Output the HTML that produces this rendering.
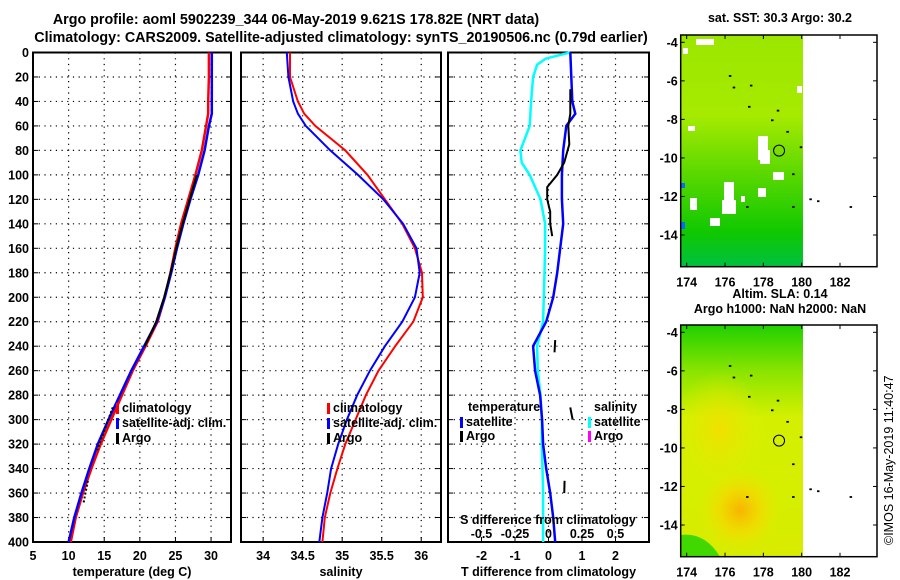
<!DOCTYPE html>
<html><head><meta charset="utf-8"><style>
body{margin:0;background:#fff;width:900px;height:580px;overflow:hidden}
svg{display:block;font-family:"Liberation Sans",sans-serif;font-weight:bold}
</style></head><body>
<svg id="fig" width="900" height="580" xmlns="http://www.w3.org/2000/svg">
<defs>
<linearGradient id="sstg" x1="0" y1="0" x2="0" y2="1">
<stop offset="0" stop-color="#9be600"/><stop offset="0.35" stop-color="#a6ea00"/><stop offset="0.6" stop-color="#5ad800"/><stop offset="0.85" stop-color="#10c800"/><stop offset="1" stop-color="#00c040"/></linearGradient>
<linearGradient id="altg" x1="0" y1="0" x2="0" y2="1">
<stop offset="0" stop-color="#20d000"/><stop offset="0.2" stop-color="#8ae400"/><stop offset="0.4" stop-color="#d4f000"/><stop offset="1" stop-color="#d8ec00"/></linearGradient>
<radialGradient id="blob" cx="0.5" cy="0.5" r="0.5"><stop offset="0" stop-color="#f8b400"/><stop offset="0.5" stop-color="#f4d800" stop-opacity="0.8"/><stop offset="1" stop-color="#e8e800" stop-opacity="0"/></radialGradient>
<radialGradient id="blob2" cx="0.5" cy="0.5" r="0.5"><stop offset="0" stop-color="#f0e000"/><stop offset="1" stop-color="#e0ee00" stop-opacity="0"/></radialGradient>
</defs>
<text x="296" y="24" font-size="14.3" text-anchor="middle">Argo profile: aoml 5902239_344 06-May-2019 9.621S 178.82E (NRT data)</text>
<text x="341" y="42" font-size="14.3" text-anchor="middle">Climatology: CARS2009. Satellite-adjusted climatology: synTS_20190506.nc (0.79d earlier)</text>
<g id="plots"></g>
<g id="maps"></g>
</svg>
<script>
// ---- data ----
const depths = [0,20,40,50,60,80,100,120,140,160,180,200,220,240,260,280,300,320,340,360,380,400];
const tempClim = [29.7,29.7,29.6,29.6,29.3,28.7,27.8,26.8,25.8,25.0,24.3,23.5,22.5,20.8,19.0,17.5,16.0,14.5,13.2,12.0,11.0,10.3];
const tempSat  = [30.1,30.1,30.1,30.1,29.7,29.1,28.2,27.1,26.1,25.2,24.4,23.5,22.4,20.6,18.8,17.2,15.6,14.1,12.9,11.8,10.8,10.0];
const argoTempDepths = [100,120,140,160,180,200,220,240];
const argoTemp = [28.0,27.0,26.0,25.1,24.3,23.4,22.3,20.7];
const salClim = [34.34,34.34,34.44,34.52,34.66,35.04,35.32,35.54,35.76,35.92,36.01,36.02,35.9,35.67,35.46,35.3,35.17,35.04,34.94,34.85,34.78,34.75];
const salSat  = [34.3,34.32,34.38,34.44,34.54,34.85,35.2,35.52,35.77,35.94,35.98,35.92,35.76,35.54,35.35,35.19,35.06,34.95,34.86,34.81,34.75,34.71];
const tDiffSat = [0.65,0.68,0.71,0.8,0.53,0.44,0.4,0.4,0.44,0.35,0.26,0.14,-0.07,-0.46,-0.4,-0.25,-0.19,-0.16,-0.07,0.05,0.14,0.2];
const sDiffDepths = [0,5,10,20,40,60,80,90,100,120,140,160,180,200,220,240,260,280,300,320,340,360,380,400];
const sDiffSat = [0.16,-0.02,-0.085,-0.115,-0.13,-0.14,-0.21,-0.2,-0.14,-0.06,-0.025,-0.025,-0.03,-0.035,-0.04,-0.085,-0.08,-0.06,-0.05,-0.05,-0.045,-0.04,-0.04,-0.04];
const argoDiffDepths = [30,50,60,75,90,100,110,120,130,140,150];
const argoTDiff = [0.65,0.65,0.59,0.62,0.47,0.26,-0.04,-0.04,0.05,0.05,0.11];
const depthTicks = [0,20,40,60,80,100,120,140,160,180,200,220,240,260,280,300,320,340,360,380,400];
const tempTicks = [5,10,15,20,25,30];
const salTicks = [34,34.5,35,35.5,36];
const tdTicks = [-2,-1,0,1,2];
const sdTicks = [-0.5,-0.25,0,0.25,0.5];
const sdTickLabels = ['-0.5','-0.25','0','0.25','0.5'];
const lonTicks = [174,176,178,180,182];
const latTicks = [-4,-6,-8,-10,-12,-14];

const NS='http://www.w3.org/2000/svg';
function mk(tag,attrs,parent){const e=document.createElementNS(NS,tag);for(const k in attrs)e.setAttribute(k,attrs[k]);parent.appendChild(e);return e;}
const plots=document.getElementById('plots');
const Y0=52.5,Y1=542;
const yD=d=>Y0+(d/400)*(Y1-Y0);

function panel(name,x0,x1,xmin,xmax,ticks,labels,xlabel,showY){
  const g=mk('g',{},plots);
  
  
  const sx=v=>x0+(v-xmin)/(xmax-xmin)*(x1-x0);
  depthTicks.forEach(d=>{
    if(d>0&&d<400){const l=mk('line',{x1:x0,x2:x1,y1:yD(d),y2:yD(d),stroke:'#000','stroke-width':1.2,'stroke-dasharray':'1.2 4.5'},g);}
    mk('line',{x1:x0,x2:x0+5,y1:yD(d),y2:yD(d),stroke:'#000','stroke-width':1},g);
    mk('line',{x1:x1-5,x2:x1,y1:yD(d),y2:yD(d),stroke:'#000','stroke-width':1},g);
    if(showY){const t=mk('text',{x:x0-4,y:yD(d)+4.5,'font-size':12.5,'text-anchor':'end'},g);t.textContent=d;}
  });
  ticks.forEach((v,i)=>{
    const x=sx(v);
    const l=mk('line',{x1:x,x2:x,y1:Y0,y2:Y1,stroke:'#000','stroke-width':1.2,'stroke-dasharray':'1.2 4.5'},g);
    
    
    mk('line',{x1:x,x2:x,y1:Y1-5,y2:Y1,stroke:'#000'},g);
    const t=mk('text',{x:x,y:560,'font-size':12.5,'text-anchor':'middle'},g);t.textContent=labels[i];
    
    
  });
  const fr=mk('rect',{x:x0,y:Y0,width:x1-x0,height:Y1-Y0,fill:'none',stroke:'#000','stroke-width':2},g);
  
  
  const xl=mk('text',{x:(x0+x1)/2,y:576,'font-size':12.5,'text-anchor':'middle'},g);xl.textContent=xlabel;
  
  
  return {g,sx};
}
function line(p,xs,ds,color,w,name){
  const pts=xs.map((v,i)=>p.sx(v).toFixed(1)+','+yD(ds[i]).toFixed(1)).join(' ');
  const e=mk('polyline',{points:pts,fill:'none',stroke:color,'stroke-width':w},p.g);
  
  
}
function legend(g,x,y,color,label){
  const r=mk('rect',{x:x,y:y-9,width:3,height:11,fill:color},g);
  
  
  const t=mk('text',{x:x+6,y:y,'font-size':12.5},g);t.textContent=label;
  
  
}
function txt(g,x,y,s,anchor,name){const t=mk('text',{x:x,y:y,'font-size':12.5,'text-anchor':anchor||'start'},g);t.textContent=s;}

// panel 1
const p1=panel('temperature-panel',33,231,5,32.8,tempTicks,tempTicks.map(String),'temperature (deg C)',true);
line(p1,tempClim,depths,'#f00',2.5,'temp-climatology-line');
line(p1,tempSat,depths,'#00f',2.5,'temp-satellite-line');
line(p1,argoTemp,argoTempDepths,'#000',2,'temp-argo-line');
const argoSegs=[[16.2,290,14.0,325],[12.7,350,12.1,368]];
argoSegs.forEach(s=>{const e=mk('line',{x1:p1.sx(s[0]),y1:yD(s[1]),x2:p1.sx(s[2]),y2:yD(s[3]),stroke:'#000','stroke-width':2,'stroke-dasharray':'2 2'},p1.g);});
legend(p1.g,116,412,'#f00','climatology');
legend(p1.g,116,427,'#00f','satellite-adj. clim.');
legend(p1.g,116,442,'#000','Argo');

// panel 2
const p2=panel('salinity-panel',241,441,33.72,36.25,salTicks,salTicks.map(String),'salinity',false);
line(p2,salClim,depths,'#f00',2,'sal-climatology-line');
line(p2,salSat,depths,'#00f',2,'sal-satellite-line');
legend(p2.g,327,412,'#f00','climatology');
legend(p2.g,327,427,'#00f','satellite-adj. clim.');
legend(p2.g,327,442,'#000','Argo');

// panel 3
const p3=panel('difference-panel',448,649,-3,3,tdTicks,tdTicks.map(String),'T difference from climatology',false);
line(p3,sDiffSat.map(v=>v*4),sDiffDepths,'#0ff',2.5,'salinity-diff-satellite-line');
line(p3,tDiffSat,depths,'#00f',2.5,'temp-diff-satellite-line');
line(p3,argoTDiff,argoDiffDepths,'#000',2,'temp-diff-argo-line');
const argoDiffSegs=[[0.2,235,0.18,245],[0.65,290,0.72,300],[0.48,350,0.47,360]];
argoDiffSegs.forEach(s=>{const e=mk('line',{x1:p3.sx(s[0]),y1:yD(s[1]),x2:p3.sx(s[2]),y2:yD(s[3]),stroke:'#000','stroke-width':2},p3.g);});
txt(p3.g,468,411,'temperature','start','legend-title-temperature');
txt(p3.g,594,411,'salinity','start','legend-title-salinity');
legend(p3.g,460,426,'#00f','satellite');
legend(p3.g,460,440,'#000','Argo');
legend(p3.g,588,426,'#0ff','satellite');
legend(p3.g,588,440,'#f0f','Argo');
txt(p3.g,548,524,'S difference from climatology','middle','s-axis-title');
sdTicks.forEach((v,i)=>txt(p3.g,p3.sx(v*4),538,sdTickLabels[i],'middle','s-tick-label'));

// maps
const maps=document.getElementById('maps');
const MX0=680.7,MX1=877,DX1=803;
const lonX=l=>686.7+(l-174)*(840-686.7)/8;
function map(name,top,bottom,title1,title2,fill){
  const g=mk('g',{},maps);
  
  
  const latY=la=>top+7.3+(-4-la)*(235-42.3)/10;
  fill(g,top,bottom);
  const coast=[[176.2,-5.7],[176.4,-6.3],[177.3,-6.2],[177.2,-7.3],[178.7,-7.5],[178.4,-8.0],[179.2,-8.6],[179.9,-9.4],[179.5,-10.8],[177.1,-12.5],[179.5,-12.5],[180.4,-12.1],[180.8,-12.2],[182.5,-12.5]];
  coast.forEach(c=>{const e=mk('rect',{x:lonX(c[0]),y:latY(c[1]),width:2.5,height:1.8,fill:'#000'},g);});
  const circ=mk('circle',{cx:lonX(178.82),cy:latY(-9.621),r:5.5,fill:'none',stroke:'#000','stroke-width':1},g);
  
  
  const fr=mk('rect',{x:MX0,y:top,width:MX1-MX0,height:bottom-top,fill:'none',stroke:'#000','stroke-width':1.5},g);
  
  
  lonTicks.forEach(l=>{mk('line',{x1:lonX(l),x2:lonX(l),y1:top,y2:top+4,stroke:'#000'},g);mk('line',{x1:lonX(l),x2:lonX(l),y1:bottom-4,y2:bottom,stroke:'#000'},g);
    txt(g,lonX(l),bottom+20,String(l),'middle','map-lon-label');});
  latTicks.forEach(la=>{mk('line',{x1:MX0,x2:MX0+4,y1:latY(la),y2:latY(la),stroke:'#000'},g);mk('line',{x1:MX1-4,x2:MX1,y1:latY(la),y2:latY(la),stroke:'#000'},g);
    txt(g,MX0-3,latY(la)+4.5,String(la),'end','map-lat-label');});
  txt(g,780,top-13-(title2?14:0),title1,'middle','map-title');
  if(title2)txt(g,780,top-12,title2,'middle','map-subtitle');
}
map('sst-map',35,266.7,'sat. SST: 30.3 Argo: 30.2',null,(g,top,bottom)=>{
  mk('rect',{x:MX0,y:top,width:DX1-MX0,height:bottom-top,fill:'url(#sstg)'},g);
  const holes=[[696,39,18,6],[683,48,5,6],[688,126,7,5],[758,136,10,24],[760,150,10,14],[773,172,11,8],[797,86,5,7],[710,218,10,8],[724,182,10,22],[722,200,14,14],[690,198,7,12],[758,188,8,9],[741,196,4,6]];
  holes.forEach(h=>mk('rect',{x:h[0],y:h[1],width:h[2],height:h[3],fill:'#fff'},g));
  mk('rect',{x:681,y:183,width:4,height:5,fill:'#0a6aff'},g);
  mk('rect',{x:681,y:222,width:4,height:7,fill:'#0a6aff'},g);
});
map('altimetry-map',325,556.7,'Altim. SLA: 0.14','Argo h1000: NaN h2000: NaN',(g,top,bottom)=>{
  mk('rect',{x:MX0,y:top,width:DX1-MX0,height:bottom-top,fill:'url(#altg)'},g);
  mk('ellipse',{cx:740,cy:510,rx:40,ry:42,fill:'url(#blob)'},g);
  mk('ellipse',{cx:720,cy:430,rx:45,ry:60,fill:'url(#blob2)'},g);
  mk('path',{d:'M680.7 535 Q705 532 720 556.7 L680.7 556.7 Z',fill:'#40d800'},g);
});
const cp=mk('text',{x:0,y:0,'font-size':12.5,'font-weight':'normal',transform:'translate(893,545) rotate(-90)'},maps);
cp.textContent='©IMOS 16-May-2019 11:40:47';


</script>
</body></html>
